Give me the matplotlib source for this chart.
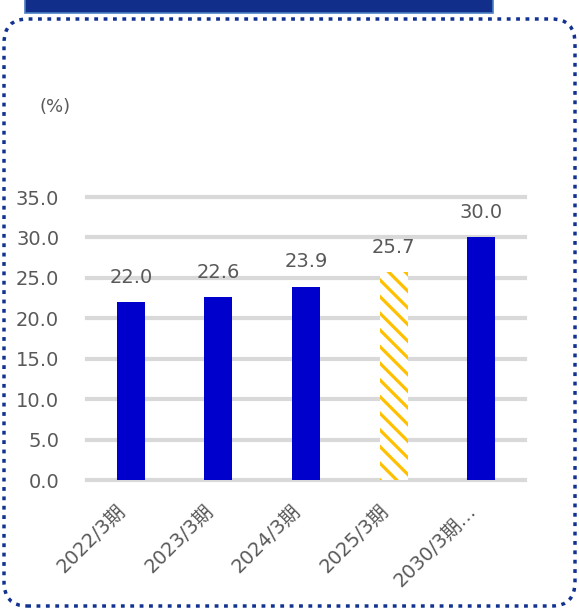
import matplotlib.pyplot as plt
from matplotlib.patches import FancyBboxPatch, Rectangle
from matplotlib.transforms import ScaledTranslation

plt.rcParams['font.family'] = ['DejaVu Sans', 'Noto Sans CJK JP']
plt.rcParams['hatch.linewidth'] = 2.3

categories = ['2022/3期', '2023/3期', '2024/3期', '2025/3期', '2030/3期…']
values = [22.0, 22.6, 23.9, 25.7, 30.0]
target_idx = 3  # 2025 target shown with hatch

gray = '#595959'
blue = '#0000CC'

fig = plt.figure(figsize=(5.79, 6.09), dpi=100)

# dotted rounded frame and header banner
frame = FancyBboxPatch((4 / 579, 3 / 609), 571 / 579, 587 / 609,
                       boxstyle='round,pad=0,rounding_size=0.04',
                       transform=fig.transFigure, fill=False,
                       edgecolor='#123291', linewidth=2.5, linestyle=(0, (1.1, 1.6)))
fig.patches.append(frame)
banner = Rectangle((25 / 579, 596 / 609), 468 / 579, 14 / 609,
                   transform=fig.transFigure, facecolor='#112E8A',
                   edgecolor='#4A80C4', linewidth=1.2)
fig.patches.append(banner)

ax = fig.add_axes([87 / 579, 129 / 609, 438 / 579, 283 / 609])
x = range(len(categories))
for i, v in enumerate(values):
    if i == target_idx:
        ax.bar(i, v, width=0.32, facecolor='white', edgecolor='#FFC000',
               hatch='\\\\', linewidth=0, zorder=3)
    else:
        ax.bar(i, v, width=0.32, color=blue, zorder=3)
    ax.text(i, v + 1.9, f'{v:.1f}', ha='center', va='bottom',
            fontsize=14, color=gray)

ax.set_xlim(-0.5, len(categories) - 0.5)
ax.set_ylim(0, 35)
ax.set_yticks([0, 5, 10, 15, 20, 25, 30, 35])
ax.set_yticklabels([f'{t:.1f}' for t in ax.get_yticks()], fontsize=14, color=gray)
ax.set_xticks(list(x))
ax.set_xticklabels(categories, rotation=45, ha='right', rotation_mode='anchor',
                   fontsize=14, color=gray)
ax.tick_params(axis='y', length=0, pad=20)
ax.tick_params(axis='x', length=0, pad=15)
shift = ScaledTranslation(-15 / 100, 0, fig.dpi_scale_trans)
for lab in ax.get_xticklabels():
    lab.set_transform(lab.get_transform() + shift)
ax.grid(axis='y', color='#D9D9D9', linewidth=3, zorder=0)
for g in ax.get_ygridlines():
    g.set_clip_on(False)
for s in ax.spines.values():
    s.set_visible(False)

fig.text(55 / 579, 1 - 107 / 609, '(%)', ha='center', va='center',
         fontsize=13, color=gray)

fig.savefig('out.png', dpi=100)
